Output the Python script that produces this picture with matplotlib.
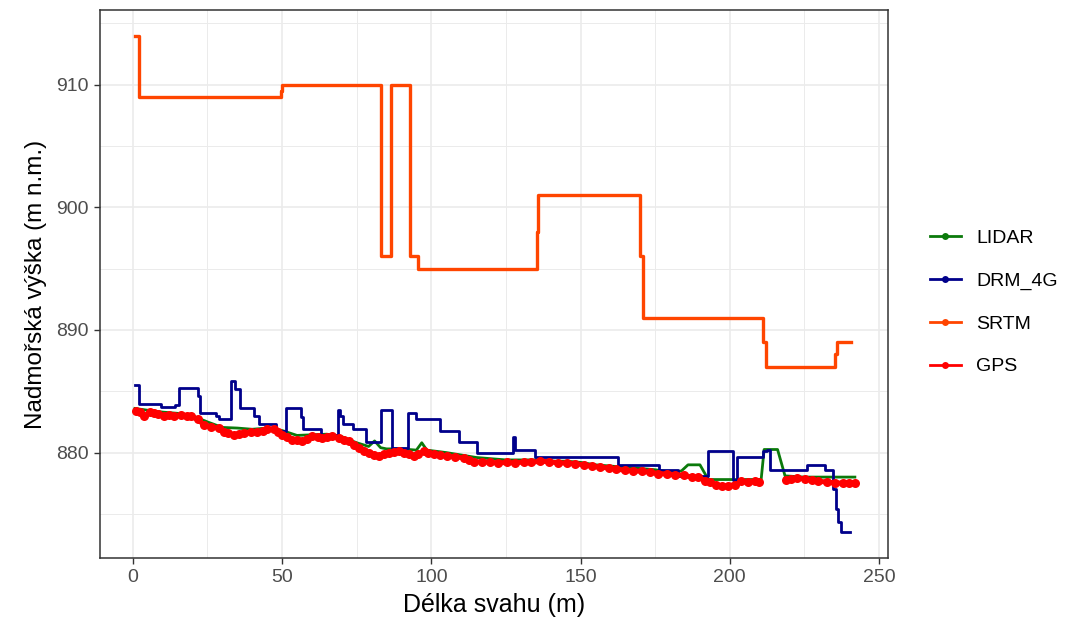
import numpy as np
import matplotlib
matplotlib.use("Agg")
import matplotlib.pyplot as plt
from matplotlib.lines import Line2D

# ---------------- data ----------------
# SRTM profile (step changes, steps-post)
srtm_x = [0.7, 1.9, 49.6, 50.1, 83.2, 86.4, 92.7, 95.6, 135.4, 135.9, 170.0, 170.8, 211.2, 212.0, 235.2, 236.0, 240.5]
srtm_y = [914.0, 909.0, 909.5, 910.0, 896.0, 910.0, 896.0, 895.0, 898.0, 901.0, 896.0, 891.0, 889.0, 887.0, 888.0, 889.0, 889.0]

# DRM_4G profile (step changes, steps-post)
drm_x = [0.7, 1.9, 9.5, 14.0, 15.6, 21.7, 22.6, 27.8, 29.0, 32.8, 34.2, 35.8, 40.6, 42.3, 48.0,
         51.2, 56.5, 57.0, 62.9, 68.9, 69.4, 70.4, 73.7, 78.0, 83.3, 86.9, 92.3, 95.0,
         103.0, 109.2, 115.3, 127.4, 128.2, 134.8, 162.7, 176.2, 182.8, 192.8, 201.2,
         202.3, 211.2, 212.3, 213.4, 225.7, 231.8, 234.6, 235.5, 236.4, 237.3, 238.2, 240.2]
drm_y = [885.5, 884.0, 883.75, 883.9, 885.25, 884.6, 883.25, 883.0, 882.7, 885.8, 885.2, 883.6, 882.95, 882.3, 881.8,
         883.6, 882.9, 881.9, 881.45, 883.5, 883.0, 882.3, 881.9, 880.85, 883.5, 880.4, 883.2, 882.7,
         881.75, 880.85, 880.0, 881.3, 880.2, 879.6, 879.0, 878.6, 878.1, 880.1, 877.8,
         879.65, 880.1, 880.25, 878.6, 878.95, 878.6, 877.0, 875.4, 874.3, 873.5, 873.5, 873.5]

# LIDAR profile
lidar_x = [0.7, 5, 10, 15, 20, 25, 30, 35, 40, 45, 50, 55, 60, 65, 70, 75, 79, 81, 83, 85, 90, 95,
           96.8, 98.5, 105, 110, 115, 120, 125, 130, 135, 140, 145, 150, 155, 160, 165, 170, 175,
           180, 183.8, 186, 190, 192.8, 200.5, 210.5, 211.5, 216, 218.5, 225, 235, 241.9]
lidar_y = [883.6, 883.45, 883.3, 883.2, 883.0, 882.5, 882.05, 882.0, 881.9, 882.0, 881.8, 881.4, 881.45,
           881.5, 881.3, 880.8, 880.5, 880.95, 880.4, 880.3, 880.3, 880.2,
           880.8, 880.2, 880.0, 879.8, 879.6, 879.5, 879.4, 879.4, 879.4, 879.3, 879.3, 879.2, 879.0,
           878.9, 878.8, 878.7, 878.6, 878.4, 878.5, 879.0, 879.0, 877.8, 877.8, 877.8, 880.25, 880.25,
           878.1, 878.0, 878.0, 878.0]

# GPS measurements (NaN = missing)
gps_x = [1, 2.5, 3.8, 5.6, 7, 8.3, 10.5, 12, 13.9, 16.2, 18, 19.5, 21.7, 23.9, 26.1, 28.9, 30.6, 32,
         33.9, 35.5, 37.3, 39.5, 41.7, 43.5, 45.1, 47.3, 48.5, 50.1, 51.8, 53.4, 55, 56.8, 58.5,
         60.1, 62, 63.5, 65, 66.8, 69.1, 70.8, 72.4, 74, 75.8, 77.5, 79.1, 80.8, 82.4, 84, 85.8,
         87.5, 89.1, 90.8, 92.5, 94.1, 95.5, 97.5, 99, 100.8, 103, 105.3, 108, 110.9, 112.5, 114.2,
         117, 119.8, 122.5, 125.4, 128, 130.9, 133.5, 136.5, 139.5, 142.6, 145.5, 148.2, 151,
         153.8, 156.5, 159.4, 162, 164.9, 167.7, 170.5, 173.3, 176.1, 179, 181.7, 184.5, 187.2,
         189.5, 191.7, 193.5, 195.5, 197.3, 199.5, 201.7, 202.6, 203.6, 206, 208.4, 209.8, 214,
         218.8, 220.5, 222.5, 225.2, 227.5, 229.6, 232.5, 235.2, 238, 240, 241.9]
gps_y = [883.4, 883.3, 882.95, 883.3, 883.2, 883.18, 883.0, 883.05, 882.96, 883.1, 883.0, 882.96,
         882.7, 882.25, 882.1, 881.97, 881.7, 881.6, 881.43, 881.5, 881.56, 881.65, 881.7, 881.8,
         881.9, 881.9, 881.7, 881.47, 881.25, 881.06, 881.0, 880.92, 881.1, 881.33, 881.25, 881.2,
         881.3, 881.33, 881.2, 881.05, 880.92, 880.65, 880.38, 880.15, 879.97, 879.8, 879.7,
         879.85, 879.97, 880.05, 880.1, 880.0, 879.9, 879.75, 879.85, 880.1, 880.0, 879.9, 879.8,
         879.7, 879.65, 879.57, 879.4, 879.24, 879.25, 879.2, 879.15, 879.2, 879.15, 879.24,
         879.2, 879.3, 879.25, 879.16, 879.15, 879.1, 879.0, 878.88, 878.8, 878.75, 878.65,
         878.56, 878.5, 878.48, 878.4, 878.29, 878.25, 878.2, 878.15, 878.0, 878.0, 877.7, 877.6,
         877.35, 877.25, 877.3, 877.39, np.nan, 877.66, 877.6, 877.66, 877.62, np.nan,
         877.8, 877.85, 877.9, 877.87, 877.8, 877.66, 877.6, 877.53, 877.5, 877.55, 877.53]

series_names = ["LIDAR", "DRM_4G", "SRTM", "GPS"]
series_colors = ["#0B7A0B", "#00008B", "#FF4500", "#FF0000"]

x_ticks = [0, 50, 100, 150, 200, 250]
y_ticks = [880, 890, 900, 910]

# ---------------- plot ----------------
plt.rcParams['font.family'] = ['Liberation Sans', 'DejaVu Sans']

fig = plt.figure(figsize=(10.76, 6.35), dpi=100)
ax = fig.add_axes([100 / 1076, 77 / 635, 788 / 1076, 548 / 635])

grid_c = "#EBEBEB"
ax.set_xlim(-11.0, 253.0)
ax.set_ylim(871.4, 916.1)
ax.set_xticks(x_ticks)
ax.set_yticks(y_ticks)
ax.set_xticks([25, 75, 125, 175, 225], minor=True)
ax.set_yticks([875, 885, 895, 905, 915], minor=True)
ax.grid(True, which='major', color=grid_c, lw=1.2, zorder=0)
ax.grid(True, which='minor', color=grid_c, lw=0.7, zorder=0)
ax.set_axisbelow(True)

ax.plot(lidar_x, lidar_y, color=series_colors[0], lw=2.0, zorder=2)
ax.plot(drm_x, drm_y, color=series_colors[1], lw=2.0, drawstyle='steps-post', zorder=3)
ax.plot(srtm_x, srtm_y, color=series_colors[2], lw=2.4, drawstyle='steps-post', zorder=3)
ax.plot(gps_x, gps_y, color=series_colors[3], lw=3.6, marker='o', markersize=6.5,
        markeredgewidth=0, zorder=4)

for s in ax.spines.values():
    s.set_color("#333333")
    s.set_linewidth(1.1)

ax.tick_params(axis='both', which='major', length=4, width=1.0, color="#333333",
               labelcolor="#4D4D4D", labelsize=14, pad=4)
ax.tick_params(axis='both', which='minor', length=0)

ax.set_xlabel("Délka svahu (m)", fontsize=18, color="black", labelpad=5)
ax.set_ylabel("Nadmořská výška (m n.m.)", fontsize=17.5, color="black", labelpad=7)

handles = [Line2D([0], [0], color=c, lw=2.0, marker='o', markersize=5, markeredgewidth=0)
           for c in series_colors]
fig.legend(handles, series_names, loc='center left', bbox_to_anchor=(0.864, 0.524),
           frameon=False, fontsize=14, handlelength=1.6, handletextpad=0.8,
           labelspacing=1.3, borderaxespad=0, borderpad=0)

fig.savefig("out.png", dpi=100)
